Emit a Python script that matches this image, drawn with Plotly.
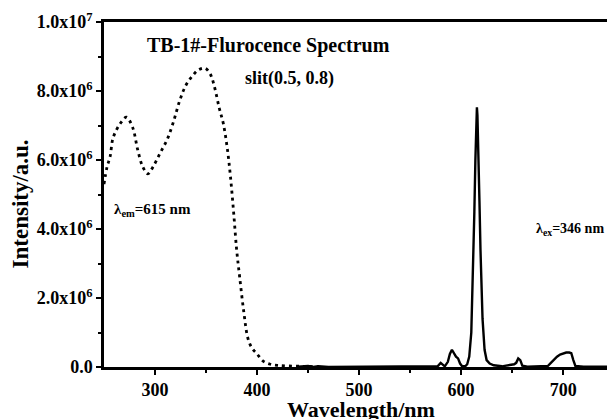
import plotly.graph_objects as go

# excitation spectrum (dotted), lambda_em = 615 nm
ex_wl = [250, 253, 256, 259, 266, 272, 278, 283, 288, 293, 298, 305, 312, 318,
         324, 330, 337, 343, 349, 354, 358, 363, 367, 371, 374, 377, 380, 383,
         387, 391, 395, 400, 406, 413, 420, 430, 445, 460]
ex_int = [5.3, 5.8, 6.1, 6.65, 7.06, 7.24, 6.95, 6.3, 5.8, 5.6, 5.8, 6.2, 6.6, 7.1,
          7.7, 8.15, 8.45, 8.62, 8.66, 8.5, 8.15, 7.5, 7.05, 6.3, 5.5, 4.5, 3.4, 2.6,
          1.6, 0.84, 0.55, 0.38, 0.17, 0.08, 0.05, 0.03, 0.02, 0.01]

# emission spectrum (solid), lambda_ex = 346 nm
em_wl = [440, 450, 455, 460, 470, 500, 540, 570, 577, 580, 582, 584, 587, 589,
         591, 593, 595, 597, 599, 601, 604, 606, 608, 610, 612, 613, 614, 615,
         615.5, 616, 617, 618, 619, 620, 621, 623, 625, 628, 632, 640, 648, 652,
         654, 656, 658, 660, 665, 680, 685, 688, 691, 694, 697, 700, 703, 706,
         708, 710, 712, 720, 745]
em_int = [0.01, 0.03, 0.0, 0.02, 0.0, 0.0, 0.0, 0.0, 0.02, 0.12, 0.08, 0.02, 0.15, 0.38,
          0.5, 0.4, 0.3, 0.25, 0.1, 0.02, 0.02, 0.08, 0.3, 1.0, 3.0, 4.5, 6.0, 7.3,
          7.53, 7.3, 6.3, 4.8, 3.4, 2.2, 1.4, 0.5, 0.2, 0.1, 0.05, 0.02, 0.05, 0.08,
          0.12, 0.25, 0.2, 0.04, 0.01, 0.01, 0.03, 0.12, 0.22, 0.3, 0.36, 0.4, 0.42, 0.42,
          0.4, 0.2, 0.03, 0.01, 0.01]

y_ticks = [0, 2e6, 4e6, 6e6, 8e6, 1e7]
y_labels = ["0.0", "2.0x10<sup>6</sup>", "4.0x10<sup>6</sup>", "6.0x10<sup>6</sup>",
            "8.0x10<sup>6</sup>", "1.0x10<sup>7</sup>"]
x_ticks = [300, 400, 500, 600, 700]

SERIF = "Liberation Serif"

fig = go.Figure()
fig.add_trace(go.Scatter(
    x=ex_wl, y=[v * 1e6 for v in ex_int], mode="lines", line_shape="spline",
    line=dict(color="black", width=2.8, dash="3px,4px"), showlegend=False))
fig.add_trace(go.Scatter(
    x=em_wl, y=[v * 1e6 for v in em_int], mode="lines",
    line=dict(color="black", width=2.4), showlegend=False))

fig.update_layout(
    width=607, height=419,
    margin=dict(l=104, r=0, t=22, b=52),
    plot_bgcolor="white", paper_bgcolor="white",
    font=dict(family=SERIF, color="black"),
    xaxis=dict(range=[250, 743], tickvals=x_ticks, ticks="outside", ticklen=5,
               tickwidth=2, tickcolor="black", showgrid=False, zeroline=False,
               showline=True, linecolor="black", linewidth=2.5, mirror=True,
               automargin=False,
               tickfont=dict(size=18, family=SERIF, weight="bold"),
               minor=dict(tickvals=[350, 450, 550, 650], ticks="outside",
                          ticklen=3, tickwidth=2, tickcolor="black")),
    yaxis=dict(range=[0, 1e7], tickvals=y_ticks, ticktext=y_labels, ticks="outside",
               ticklen=5, tickwidth=2, tickcolor="black", showgrid=False,
               zeroline=False, showline=True, linecolor="black", linewidth=2.5,
               automargin=False,
               tickfont=dict(size=18, family=SERIF, weight="bold"),
               minor=dict(tickvals=[1e6, 3e6, 5e6, 7e6, 9e6], ticks="outside",
                          ticklen=3, tickwidth=2, tickcolor="black")),
)

fig.add_annotation(x=-0.167, y=0.474, xref="paper", yref="paper", textangle=-90,
                   xanchor="center", yanchor="middle",
                   text="<b>Intensity/a.u.</b>", showarrow=False,
                   font=dict(size=23, family=SERIF))
fig.add_annotation(x=0.51, y=-0.08, xref="paper", yref="paper", yanchor="top",
                   xanchor="center",
                   text="<b>Wavelength/nm</b>", showarrow=False,
                   font=dict(size=22, family=SERIF))
fig.add_annotation(x=290, y=9.33e6, text="<b>TB-1#-Flurocence Spectrum</b>",
                   showarrow=False, xanchor="left", font=dict(size=20, family=SERIF))
fig.add_annotation(x=386, y=8.37e6, text="<b>slit(0.5, 0.8)</b>",
                   showarrow=False, xanchor="left", font=dict(size=18, family=SERIF))
fig.add_annotation(x=258, y=4.55e6, text="<b>λ<sub>em</sub>=615 nm</b>",
                   showarrow=False, xanchor="left", font=dict(size=15, family=SERIF))
fig.add_annotation(x=671, y=4.0e6, text="<b>λ<sub>ex</sub>=346 nm</b>",
                   showarrow=False, xanchor="left", font=dict(size=14, family=SERIF))

# drop the default page margin so the 607x419 figure fills the window
fig.write_html("out.html", config={"displayModeBar": False},
               post_script="document.body.style.margin='0';")
